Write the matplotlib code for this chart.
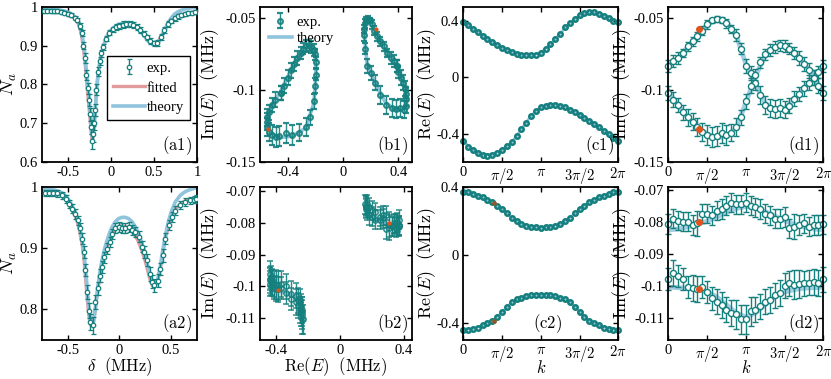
import numpy as np
import matplotlib
matplotlib.use('Agg')
import matplotlib.pyplot as plt
from matplotlib.ticker import FuncFormatter

plt.rcParams['font.family'] = 'serif'
plt.rcParams['font.serif'] = ['Liberation Serif', 'DejaVu Serif']
plt.rcParams['mathtext.fontset'] = 'cm'
plt.rcParams['axes.unicode_minus'] = False
plt.rcParams['font.size'] = 10

teal = '#15807e'
light = '#8fc4dc'
pink = '#e39a9a'
orange = '#e0531f'

# (a1) transmission, first data set
a1_delta = [-0.78, -0.74, -0.70, -0.66, -0.62, -0.58, -0.54, -0.50, -0.46, -0.42,
            -0.39, -0.36, -0.34, -0.32, -0.30, -0.285, -0.27, -0.255, -0.24, -0.228,
            -0.215, -0.205, -0.192, -0.18, -0.167, -0.148, -0.128, -0.109, -0.09, -0.06,
            -0.02, 0.02, 0.06, 0.10, 0.14, 0.18, 0.22, 0.26, 0.30, 0.34,
            0.38, 0.42, 0.46, 0.50, 0.54, 0.58, 0.62, 0.66, 0.70, 0.74,
            0.78, 0.82, 0.86, 0.90, 0.94, 0.98]
a1_exp = [0.990, 0.990, 0.989, 0.988, 0.988, 0.987, 0.985, 0.982, 0.978, 0.972,
          0.966, 0.950, 0.933, 0.900, 0.868, 0.825, 0.790, 0.760, 0.723, 0.690,
          0.655, 0.672, 0.700, 0.735, 0.786, 0.833, 0.860, 0.880, 0.897, 0.918,
          0.933, 0.942, 0.948, 0.951, 0.954, 0.955, 0.955, 0.952, 0.948, 0.940,
          0.931, 0.921, 0.912, 0.906, 0.907, 0.922, 0.940, 0.955, 0.963, 0.970,
          0.975, 0.979, 0.982, 0.984, 0.985, 0.986]
a1_err = [0.004, 0.004, 0.004, 0.004, 0.004, 0.004, 0.004, 0.005, 0.005, 0.005,
          0.006, 0.007, 0.008, 0.010, 0.012, 0.013, 0.014, 0.015, 0.016, 0.018,
          0.022, 0.020, 0.018, 0.016, 0.014, 0.012, 0.010, 0.009, 0.008, 0.007,
          0.007, 0.007, 0.007, 0.008, 0.008, 0.008, 0.008, 0.008, 0.007, 0.007,
          0.007, 0.007, 0.007, 0.007, 0.007, 0.007, 0.007, 0.007, 0.006, 0.006,
          0.006, 0.005, 0.005, 0.005, 0.005, 0.005]
a1_fit = [0.990, 0.990, 0.989, 0.988, 0.988, 0.987, 0.985, 0.982, 0.977, 0.970,
          0.962, 0.946, 0.926, 0.895, 0.858, 0.818, 0.780, 0.745, 0.708, 0.675,
          0.652, 0.672, 0.705, 0.742, 0.785, 0.828, 0.857, 0.877, 0.896, 0.917,
          0.933, 0.943, 0.949, 0.953, 0.955, 0.955, 0.954, 0.951, 0.946, 0.938,
          0.929, 0.919, 0.911, 0.906, 0.908, 0.921, 0.939, 0.954, 0.964, 0.971,
          0.976, 0.979, 0.982, 0.984, 0.985, 0.986]
a1_theory = [0.996, 0.996, 0.995, 0.994, 0.993, 0.991, 0.989, 0.986, 0.981, 0.974,
             0.967, 0.953, 0.937, 0.908, 0.875, 0.838, 0.803, 0.770, 0.735, 0.700,
             0.665, 0.675, 0.700, 0.735, 0.780, 0.828, 0.858, 0.878, 0.895, 0.916,
             0.933, 0.944, 0.951, 0.955, 0.957, 0.958, 0.957, 0.954, 0.948, 0.938,
             0.927, 0.915, 0.906, 0.902, 0.904, 0.917, 0.937, 0.956, 0.971, 0.981,
             0.987, 0.991, 0.994, 0.996, 0.997, 0.998]

# (a2) transmission, second data set
a2_delta = [-0.72, -0.68, -0.64, -0.60, -0.556, -0.518, -0.492, -0.46, -0.427, -0.405,
            -0.385, -0.363, -0.347, -0.331, -0.315, -0.298, -0.282, -0.256, -0.234, -0.211,
            -0.185, -0.169, -0.147, -0.121, -0.095, -0.073, -0.04, -0.008, 0.024, 0.056,
            0.089, 0.121, 0.153, 0.185, 0.218, 0.24, 0.266, 0.292, 0.315, 0.337,
            0.369, 0.395, 0.418, 0.444, 0.476, 0.508, 0.54, 0.589, 0.637, 0.679,
            0.718, 0.745]
a2_exp = [0.990, 0.990, 0.990, 0.989, 0.986, 0.980, 0.972, 0.964, 0.956, 0.945,
          0.932, 0.915, 0.893, 0.864, 0.828, 0.798, 0.779, 0.774, 0.812, 0.834,
          0.855, 0.869, 0.885, 0.899, 0.910, 0.923, 0.932, 0.934, 0.933, 0.932,
          0.934, 0.929, 0.926, 0.918, 0.902, 0.893, 0.880, 0.858, 0.845, 0.839,
          0.847, 0.866, 0.888, 0.915, 0.937, 0.951, 0.961, 0.970, 0.975, 0.978,
          0.979, 0.980]
a2_err = [0.005, 0.005, 0.005, 0.005, 0.006, 0.006, 0.007, 0.007, 0.008, 0.008,
          0.008, 0.009, 0.010, 0.010, 0.011, 0.012, 0.013, 0.014, 0.012, 0.011,
          0.010, 0.010, 0.009, 0.009, 0.008, 0.008, 0.008, 0.008, 0.008, 0.008,
          0.008, 0.008, 0.008, 0.009, 0.009, 0.010, 0.010, 0.011, 0.011, 0.011,
          0.011, 0.010, 0.010, 0.009, 0.008, 0.008, 0.007, 0.007, 0.006, 0.006,
          0.006, 0.006]
a2_fit = [0.991, 0.990, 0.990, 0.988, 0.985, 0.979, 0.972, 0.963, 0.952, 0.941,
          0.927, 0.908, 0.887, 0.858, 0.823, 0.793, 0.775, 0.772, 0.800, 0.830,
          0.857, 0.872, 0.888, 0.902, 0.914, 0.923, 0.931, 0.935, 0.936, 0.935,
          0.933, 0.928, 0.920, 0.910, 0.895, 0.884, 0.868, 0.851, 0.840, 0.836,
          0.845, 0.866, 0.890, 0.915, 0.938, 0.953, 0.963, 0.972, 0.977, 0.979,
          0.980, 0.981]
a2_theory = [0.997, 0.996, 0.995, 0.993, 0.990, 0.985, 0.979, 0.970, 0.958, 0.947,
             0.934, 0.915, 0.897, 0.872, 0.840, 0.805, 0.782, 0.775, 0.800, 0.835,
             0.865, 0.880, 0.897, 0.912, 0.925, 0.934, 0.943, 0.948, 0.950, 0.950,
             0.948, 0.943, 0.935, 0.924, 0.908, 0.895, 0.877, 0.858, 0.845, 0.840,
             0.848, 0.870, 0.895, 0.920, 0.945, 0.962, 0.975, 0.986, 0.992, 0.995,
             0.997, 0.998]

# quasi-momentum grids: measured points and theory curves
k = np.arange(33) * np.pi / 16
kt = np.arange(17) * np.pi / 8
k_mark = 0.4 * np.pi

# (c1)/(d1) Re and Im of the two bands, first set
c1_up = [0.39, 0.37, 0.345, 0.32, 0.295, 0.27, 0.25, 0.228, 0.21, 0.193,
         0.18, 0.168, 0.16, 0.155, 0.155, 0.16, 0.175, 0.2, 0.235, 0.27,
         0.31, 0.354, 0.385, 0.414, 0.44, 0.455, 0.46, 0.46, 0.45, 0.435,
         0.42, 0.40, 0.39]
c1_lo = [-0.45, -0.49, -0.515, -0.535, -0.547, -0.553, -0.547, -0.535, -0.51, -0.487,
         -0.46, -0.415, -0.367, -0.32, -0.27, -0.235, -0.21, -0.2, -0.195, -0.195,
         -0.2, -0.21, -0.23, -0.245, -0.265, -0.287, -0.305, -0.33, -0.354, -0.378,
         -0.40, -0.426, -0.45]
c1_th_up = [0.39, 0.345, 0.295, 0.25, 0.21, 0.18, 0.16, 0.155, 0.175,
            0.235, 0.31, 0.385, 0.44, 0.46, 0.45, 0.42, 0.39]
c1_th_lo = [-0.45, -0.515, -0.547, -0.547, -0.51, -0.46, -0.367, -0.27, -0.21,
            -0.195, -0.2, -0.23, -0.265, -0.305, -0.354, -0.40, -0.45]
d1_A = [-0.0836, -0.0800, -0.0778, -0.0745, -0.0700, -0.0665, -0.0630, -0.0590, -0.0548, -0.0520,
        -0.0508, -0.0515, -0.0540, -0.0580, -0.0620, -0.0715, -0.0835, -0.0885, -0.0950, -0.1035,
        -0.1105, -0.1125, -0.1132, -0.1125, -0.1137, -0.1108, -0.1060, -0.1030, -0.0990, -0.0950,
        -0.0915, -0.0875, -0.0836]
d1_B = [-0.1020, -0.1067, -0.1105, -0.1155, -0.1190, -0.1220, -0.1255, -0.1290, -0.1310, -0.1325,
        -0.1320, -0.1300, -0.1310, -0.1295, -0.1255, -0.1190, -0.1080, -0.0970, -0.0895, -0.0810,
        -0.0755, -0.0725, -0.0705, -0.0692, -0.0695, -0.0715, -0.0745, -0.0780, -0.0820, -0.0865,
        -0.0915, -0.0970, -0.1020]
d1_errA = [0.004, 0.004, 0.004, 0.003, 0.003, 0.003, 0.003, 0.003, 0.003, 0.002,
           0.002, 0.002, 0.003, 0.003, 0.004, 0.004, 0.005, 0.005, 0.005, 0.006,
           0.006, 0.006, 0.006, 0.006, 0.006, 0.005, 0.005, 0.005, 0.005, 0.005,
           0.005, 0.004, 0.004]
d1_errB = [0.005, 0.005, 0.005, 0.005, 0.006, 0.006, 0.006, 0.006, 0.007, 0.007,
           0.007, 0.007, 0.007, 0.006, 0.006, 0.005, 0.005, 0.005, 0.004, 0.004,
           0.004, 0.004, 0.004, 0.004, 0.004, 0.004, 0.004, 0.005, 0.005, 0.005,
           0.005, 0.005, 0.005]
d1_th_A = [-0.0840, -0.0780, -0.0705, -0.0630, -0.0552, -0.0508, -0.0528, -0.0620, -0.0820,
           -0.0960, -0.1090, -0.1140, -0.1130, -0.1070, -0.0990, -0.0912, -0.0840]
d1_th_B = [-0.1010, -0.1105, -0.1190, -0.1255, -0.1305, -0.1330, -0.1320, -0.1265, -0.1090,
           -0.0905, -0.0765, -0.0705, -0.0695, -0.0740, -0.0815, -0.0912, -0.1010]
c1_mark = [0.241, -0.543]
d1_mark = [-0.0576, -0.1271]

# (c2)/(d2) second set
c2_up = [0.367, 0.367, 0.357, 0.347, 0.337, 0.323, 0.308, 0.288, 0.268, 0.248,
         0.218, 0.198, 0.183, 0.169, 0.165, 0.161, 0.159, 0.161, 0.165, 0.169,
         0.183, 0.198, 0.218, 0.248, 0.268, 0.288, 0.308, 0.323, 0.337, 0.347,
         0.357, 0.367, 0.367]
c2_lo = [-0.44, -0.44, -0.433, -0.427, -0.413, -0.40, -0.387, -0.367, -0.337, -0.308,
         -0.278, -0.262, -0.252, -0.244, -0.238, -0.236, -0.234, -0.236, -0.238, -0.244,
         -0.252, -0.262, -0.278, -0.308, -0.337, -0.367, -0.387, -0.40, -0.413, -0.427,
         -0.433, -0.44, -0.44]
c2_th_up = [0.367, 0.357, 0.337, 0.308, 0.268, 0.218, 0.183, 0.165, 0.159,
            0.165, 0.183, 0.218, 0.268, 0.308, 0.337, 0.357, 0.367]
c2_th_lo = [-0.44, -0.433, -0.413, -0.387, -0.337, -0.278, -0.252, -0.238, -0.234,
            -0.238, -0.252, -0.278, -0.337, -0.387, -0.413, -0.433, -0.44]
d2_A = [-0.0807, -0.0790, -0.0797, -0.0800, -0.0800, -0.0810, -0.0805, -0.0775, -0.0775, -0.0780,
        -0.0765, -0.0760, -0.0750, -0.0740, -0.0745, -0.0745, -0.0740, -0.0750, -0.0755, -0.0760,
        -0.0775, -0.0780, -0.0790, -0.0790, -0.0785, -0.0820, -0.0815, -0.0810, -0.0805, -0.0815,
        -0.0810, -0.0810, -0.0808]
d2_B = [-0.0978, -0.0960, -0.0970, -0.0980, -0.1005, -0.1008, -0.1010, -0.1005, -0.1020, -0.1040,
        -0.1050, -0.1060, -0.1075, -0.1085, -0.1090, -0.1105, -0.1105, -0.1080, -0.1075, -0.1065,
        -0.1050, -0.1045, -0.1030, -0.1023, -0.1000, -0.0993, -0.0997, -0.0995, -0.0993, -0.0990,
        -0.0988, -0.0992, -0.0980]
d2_errA = [0.003, 0.003, 0.003, 0.003, 0.003, 0.003, 0.004, 0.003, 0.003, 0.003,
           0.003, 0.003, 0.003, 0.003, 0.003, 0.003, 0.003, 0.003, 0.003, 0.003,
           0.003, 0.003, 0.003, 0.003, 0.003, 0.003, 0.004, 0.003, 0.003, 0.003,
           0.003, 0.003, 0.003]
d2_errB = [0.0035, 0.004, 0.0035, 0.0035, 0.0035, 0.004, 0.004, 0.0035, 0.0035, 0.0035,
           0.004, 0.004, 0.004, 0.004, 0.0045, 0.0045, 0.0045, 0.0045, 0.004, 0.004,
           0.004, 0.004, 0.004, 0.004, 0.004, 0.004, 0.0045, 0.0045, 0.004, 0.004,
           0.004, 0.004, 0.004]
d2_th_A = [-0.0826, -0.0822, -0.0816, -0.0808, -0.0798, -0.0785, -0.0770, -0.0758, -0.0752,
           -0.0756, -0.0768, -0.0782, -0.0796, -0.0808, -0.0816, -0.0822, -0.0826]
d2_th_B = [-0.1005, -0.1006, -0.1008, -0.1012, -0.1020, -0.1035, -0.1060, -0.1085, -0.1098,
           -0.1085, -0.1060, -0.1035, -0.1020, -0.1012, -0.1008, -0.1006, -0.1005]
c2_mark = [0.305, -0.388]
d2_mark = [-0.0800, -0.1011]

kticks = [0, np.pi / 2, np.pi, 3 * np.pi / 2, 2 * np.pi]
klabels = ['0', r'$\pi/2$', r'$\pi$', r'$3\pi/2$', r'$2\pi$']
gfmt = FuncFormatter(lambda v, p: '{:g}'.format(round(v, 4)))
ylab_im = r'$\mathrm{Im}(E)\ \ (\mathrm{MHz})$'
ylab_re = r'$\mathrm{Re}(E)\ \ (\mathrm{MHz})$'


def style(ax, tag, labx, tx=0.97):
    ax.tick_params(direction='in', top=True, right=True, length=3.5, width=1,
                   labelsize=10.5, pad=3)
    for s in ax.spines.values():
        s.set_linewidth(1.3)
    ax.xaxis.set_major_formatter(gfmt)
    ax.yaxis.set_major_formatter(gfmt)
    ax.yaxis.set_label_coords(labx, 0.5)
    ax.text(tx, 0.035, tag, transform=ax.transAxes, ha='right', va='bottom', fontsize=12)


fig = plt.figure(figsize=(8.31, 3.79), dpi=100)
lefts = [0.0505, 0.3129, 0.5575, 0.8042]
widths = [0.1865, 0.1829, 0.1865, 0.1865]
ax_a1 = fig.add_axes([lefts[0], 0.5718, widths[0], 0.4106])
ax_b1 = fig.add_axes([lefts[1], 0.5718, widths[1], 0.4106])
ax_c1 = fig.add_axes([lefts[2], 0.5718, widths[2], 0.4106])
ax_d1 = fig.add_axes([lefts[3], 0.5718, widths[3], 0.4106])
ax_a2 = fig.add_axes([lefts[0], 0.1029, widths[0], 0.4045])
ax_b2 = fig.add_axes([lefts[1], 0.1029, widths[1], 0.4045])
ax_c2 = fig.add_axes([lefts[2], 0.1029, widths[2], 0.4045])
ax_d2 = fig.add_axes([lefts[3], 0.1029, widths[3], 0.4045])

# ---- a panels ----
for ax, x, y, e, fit, th in [(ax_a1, a1_delta, a1_exp, a1_err, a1_fit, a1_theory),
                             (ax_a2, a2_delta, a2_exp, a2_err, a2_fit, a2_theory)]:
    l_fit, = ax.plot(x, fit, color=pink, lw=2.4, zorder=1)
    l_th, = ax.plot(x, th, color=light, lw=2.6, zorder=2)
    eb = ax.errorbar(x, y, yerr=e, fmt='o', ms=3.2, mfc='white', mec=teal, mew=0.9,
                     ecolor=teal, elinewidth=1, capsize=1.8, capthick=1, zorder=3)
    ax.set_ylabel(r'$N_a$', fontsize=13.5)
    if ax is ax_a1:
        ax.legend([eb, l_fit, l_th], ['exp.', 'fitted', 'theory'], loc='upper left',
                  bbox_to_anchor=(0.42, 0.685), fontsize=10.5, fancybox=False, framealpha=1,
                  edgecolor='black', handlelength=2.2, borderpad=0.4, labelspacing=0.45,
                  handletextpad=0.1, borderaxespad=0)
ax_a1.set_xlim(-0.8, 1)
ax_a1.set_ylim(0.6, 1.0)
ax_a1.set_xticks([-0.5, 0, 0.5, 1])
ax_a1.set_yticks([0.6, 0.7, 0.8, 0.9, 1])
style(ax_a1, r'$\mathrm{(a1)}$', -0.15)
ax_a2.set_xlim(-0.75, 0.75)
ax_a2.set_ylim(0.75, 1.0)
ax_a2.set_xticks([-0.5, 0, 0.5])
ax_a2.set_yticks([0.8, 0.9, 1])
ax_a2.set_xlabel(r'$\delta\ \ (\mathrm{MHz})$', fontsize=12, labelpad=-1)
style(ax_a2, r'$\mathrm{(a2)}$', -0.15)

# ---- c panels ----
for ax, up, lo, thu, thl, cm in [(ax_c1, c1_up, c1_lo, c1_th_up, c1_th_lo, c1_mark),
                                 (ax_c2, c2_up, c2_lo, c2_th_up, c2_th_lo, c2_mark)]:
    ax.plot(kt, thu, color=light, lw=2, zorder=1)
    ax.plot(kt, thl, color=light, lw=2, zorder=1)
    ax.plot(k, up, 'o', ms=3.2, mfc='none', mec=teal, mew=1.8, zorder=2, clip_on=False)
    ax.plot(k, lo, 'o', ms=3.2, mfc='none', mec=teal, mew=1.8, zorder=2, clip_on=False)
    if ax is ax_c2:
        ax.plot([k_mark, k_mark], cm, 'o', ms=2.5, color='#8a5a2a', zorder=3)
    ax.set_xlim(0, 2 * np.pi)
    ax.set_yticks([-0.4, 0, 0.4])
    ax.set_ylabel(ylab_re, fontsize=13)
ax_c1.set_ylim(-0.6, 0.5)
ax_c2.set_ylim(-0.5, 0.4)
style(ax_c1, r'$\mathrm{(c1)}$', -0.165)
style(ax_c2, r'$\mathrm{(c2)}$', -0.165, tx=0.64)
for ax in [ax_c1, ax_c2]:
    ax.set_xticks(kticks)
    ax.set_xticklabels(klabels)

# ---- d panels ----
for ax, A, B, eA, eB, thA, thB, dm in [(ax_d1, d1_A, d1_B, d1_errA, d1_errB, d1_th_A, d1_th_B, d1_mark),
                                       (ax_d2, d2_A, d2_B, d2_errA, d2_errB, d2_th_A, d2_th_B, d2_mark)]:
    ax.plot(kt, thA, color=light, lw=3.5, alpha=0.8, zorder=1)
    ax.plot(kt, thB, color=light, lw=3.5, alpha=0.8, zorder=1)
    for yy, ee in [(A, eA), (B, eB)]:
        ax.errorbar(k, yy, yerr=ee, fmt='o', ms=4.4, mfc='white', mec=teal, mew=1,
                    ecolor=teal, elinewidth=1, capsize=2, capthick=1, zorder=2, clip_on=False)
    ax.plot([k_mark, k_mark], dm, 'o', ms=4, color=orange, zorder=4)
    ax.set_xlim(0, 2 * np.pi)
    ax.set_xticks(kticks)
    ax.set_ylabel(ylab_im, fontsize=13)
ax_d1.set_ylim(-0.15, -0.0425)
ax_d1.set_yticks([-0.15, -0.1, -0.05])
ax_d2.set_ylim(-0.117, -0.069)
ax_d2.set_yticks([-0.11, -0.1, -0.09, -0.08, -0.07])
style(ax_d1, r'$\mathrm{(d1)}$', -0.225)
style(ax_d2, r'$\mathrm{(d2)}$', -0.225)
for ax in [ax_d1, ax_d2]:
    ax.set_xticklabels(klabels)

# ---- b panels: Re vs Im ----
for ax, up, lo, thu, thl, A, B, eA, eB, thA, thB, ms, mew in [
        (ax_b1, c1_up, c1_lo, c1_th_up, c1_th_lo, d1_A, d1_B, d1_errA, d1_errB, d1_th_A, d1_th_B, 3.4, 1.6),
        (ax_b2, c2_up, c2_lo, c2_th_up, c2_th_lo, d2_A, d2_B, d2_errA, d2_errB, d2_th_A, d2_th_B, 3.8, 1.1)]:
    l_th, = ax.plot(thu, thA, color=light, lw=2.6, zorder=1)
    ax.plot(thl, thB, color=light, lw=2.6, zorder=1)
    eb = ax.errorbar(up, A, yerr=eA, fmt='o', ms=ms, mfc='none', mec=teal, mew=mew,
                     ecolor=teal, elinewidth=1, capsize=2, capthick=1, zorder=2, alpha=0.9)
    ax.errorbar(lo, B, yerr=eB, fmt='o', ms=ms, mfc='none', mec=teal, mew=mew,
                ecolor=teal, elinewidth=1, capsize=2, capthick=1, zorder=2, alpha=0.9)
    ax.set_ylabel(ylab_im, fontsize=13)
    ax.set_xticks([-0.4, 0, 0.4])
    if ax is ax_b1:
        ax.plot(c1_mark, d1_mark, 'o', ms=2, color=orange, zorder=3)
        ax.legend([eb, l_th], ['exp.', 'theory'], loc='upper left', frameon=False,
                  fontsize=10.5, handlelength=1.6, handletextpad=0.3, labelspacing=0.2,
                  borderaxespad=0.2)
    else:
        ax.plot(c2_mark, d2_mark, 'o', ms=2, color=orange, zorder=3)
ax_b1.set_xlim(-0.6, 0.5)
ax_b1.set_ylim(-0.15, -0.0425)
ax_b1.set_yticks([-0.15, -0.1, -0.05])
ax_b2.set_xlim(-0.5, 0.45)
ax_b2.set_ylim(-0.117, -0.0685)
ax_b2.set_yticks([-0.11, -0.1, -0.09, -0.08, -0.07])
ax_b2.set_xlabel(r'$\mathrm{Re}(E)\ \ (\mathrm{MHz})$', fontsize=12, labelpad=-1)
style(ax_b1, r'$\mathrm{(b1)}$', -0.26)
style(ax_b2, r'$\mathrm{(b2)}$', -0.26)

ax_c2.set_xlabel(r'$k$', fontsize=12, labelpad=-3)
ax_d2.set_xlabel(r'$k$', fontsize=12, labelpad=-3)

fig.savefig('out.png', dpi=100)
